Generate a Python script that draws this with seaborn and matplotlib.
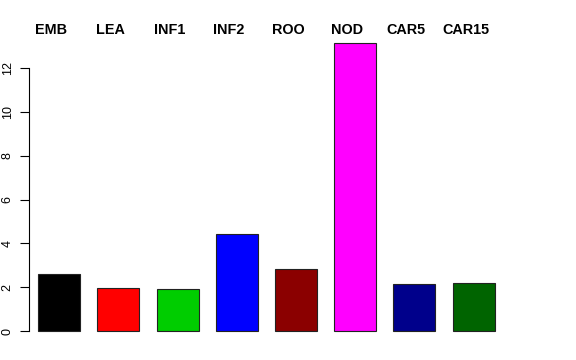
import matplotlib
matplotlib.use("Agg")
import matplotlib.pyplot as plt
import seaborn as sns
import pandas as pd

categories = ["EMB", "LEA", "INF1", "INF2", "ROO", "NOD", "CAR5", "CAR15"]
values = [2.60, 1.95, 1.93, 4.44, 2.82, 13.14, 2.15, 2.21]
colors = ["#000000", "#FF0000", "#00CD00", "#0000FF", "#8B0000", "#FF00FF", "#00008B", "#006400"]
yticks = [0, 2, 4, 6, 8, 10, 12]

sns.set_theme(style="white")
plt.rcParams["font.family"] = ["Liberation Sans", "DejaVu Sans"]

df = pd.DataFrame({"cat": categories, "val": values})

fig = plt.figure(figsize=(5.76, 3.6), dpi=100)
ax = fig.add_axes([29.3 / 576, 17.5 / 360, (503.7 - 29.3) / 576, (342.5 - 31.7) / 360])

sns.barplot(data=df, x="cat", y="val", hue="cat", palette=colors, legend=False,
            width=0.71, edgecolor="#222222", linewidth=0.8, saturation=1, ax=ax)

ax.set_xlim(-0.505, 7.508)
ax.set_ylim(-0.525, 13.665)
ax.set_xlabel("")
ax.set_ylabel("")
ax.set_xticks([])
for s in ["top", "right", "bottom"]:
    ax.spines[s].set_visible(False)
ax.spines["left"].set_bounds(0, 12)
ax.spines["left"].set_color("black")
ax.spines["left"].set_linewidth(0.8)
ax.set_yticks(yticks)
ax.set_yticklabels([str(t) for t in yticks])
ax.tick_params(axis="y", left=True, length=6.2, width=0.8, color="black", pad=5.0,
               labelsize=9, labelcolor="black")
plt.setp(ax.get_yticklabels(), rotation=90, va="center")
ax.grid(False)

for i, c in enumerate(categories):
    ax.annotate(c, xy=(i, 1), xycoords=("data", "axes fraction"),
                xytext=(-5.76, 1.2), textcoords="offset points",
                ha="center", va="center", fontsize=10.4, fontweight="bold",
                color="black", annotation_clip=False)

fig.savefig("out.png", dpi=100)
